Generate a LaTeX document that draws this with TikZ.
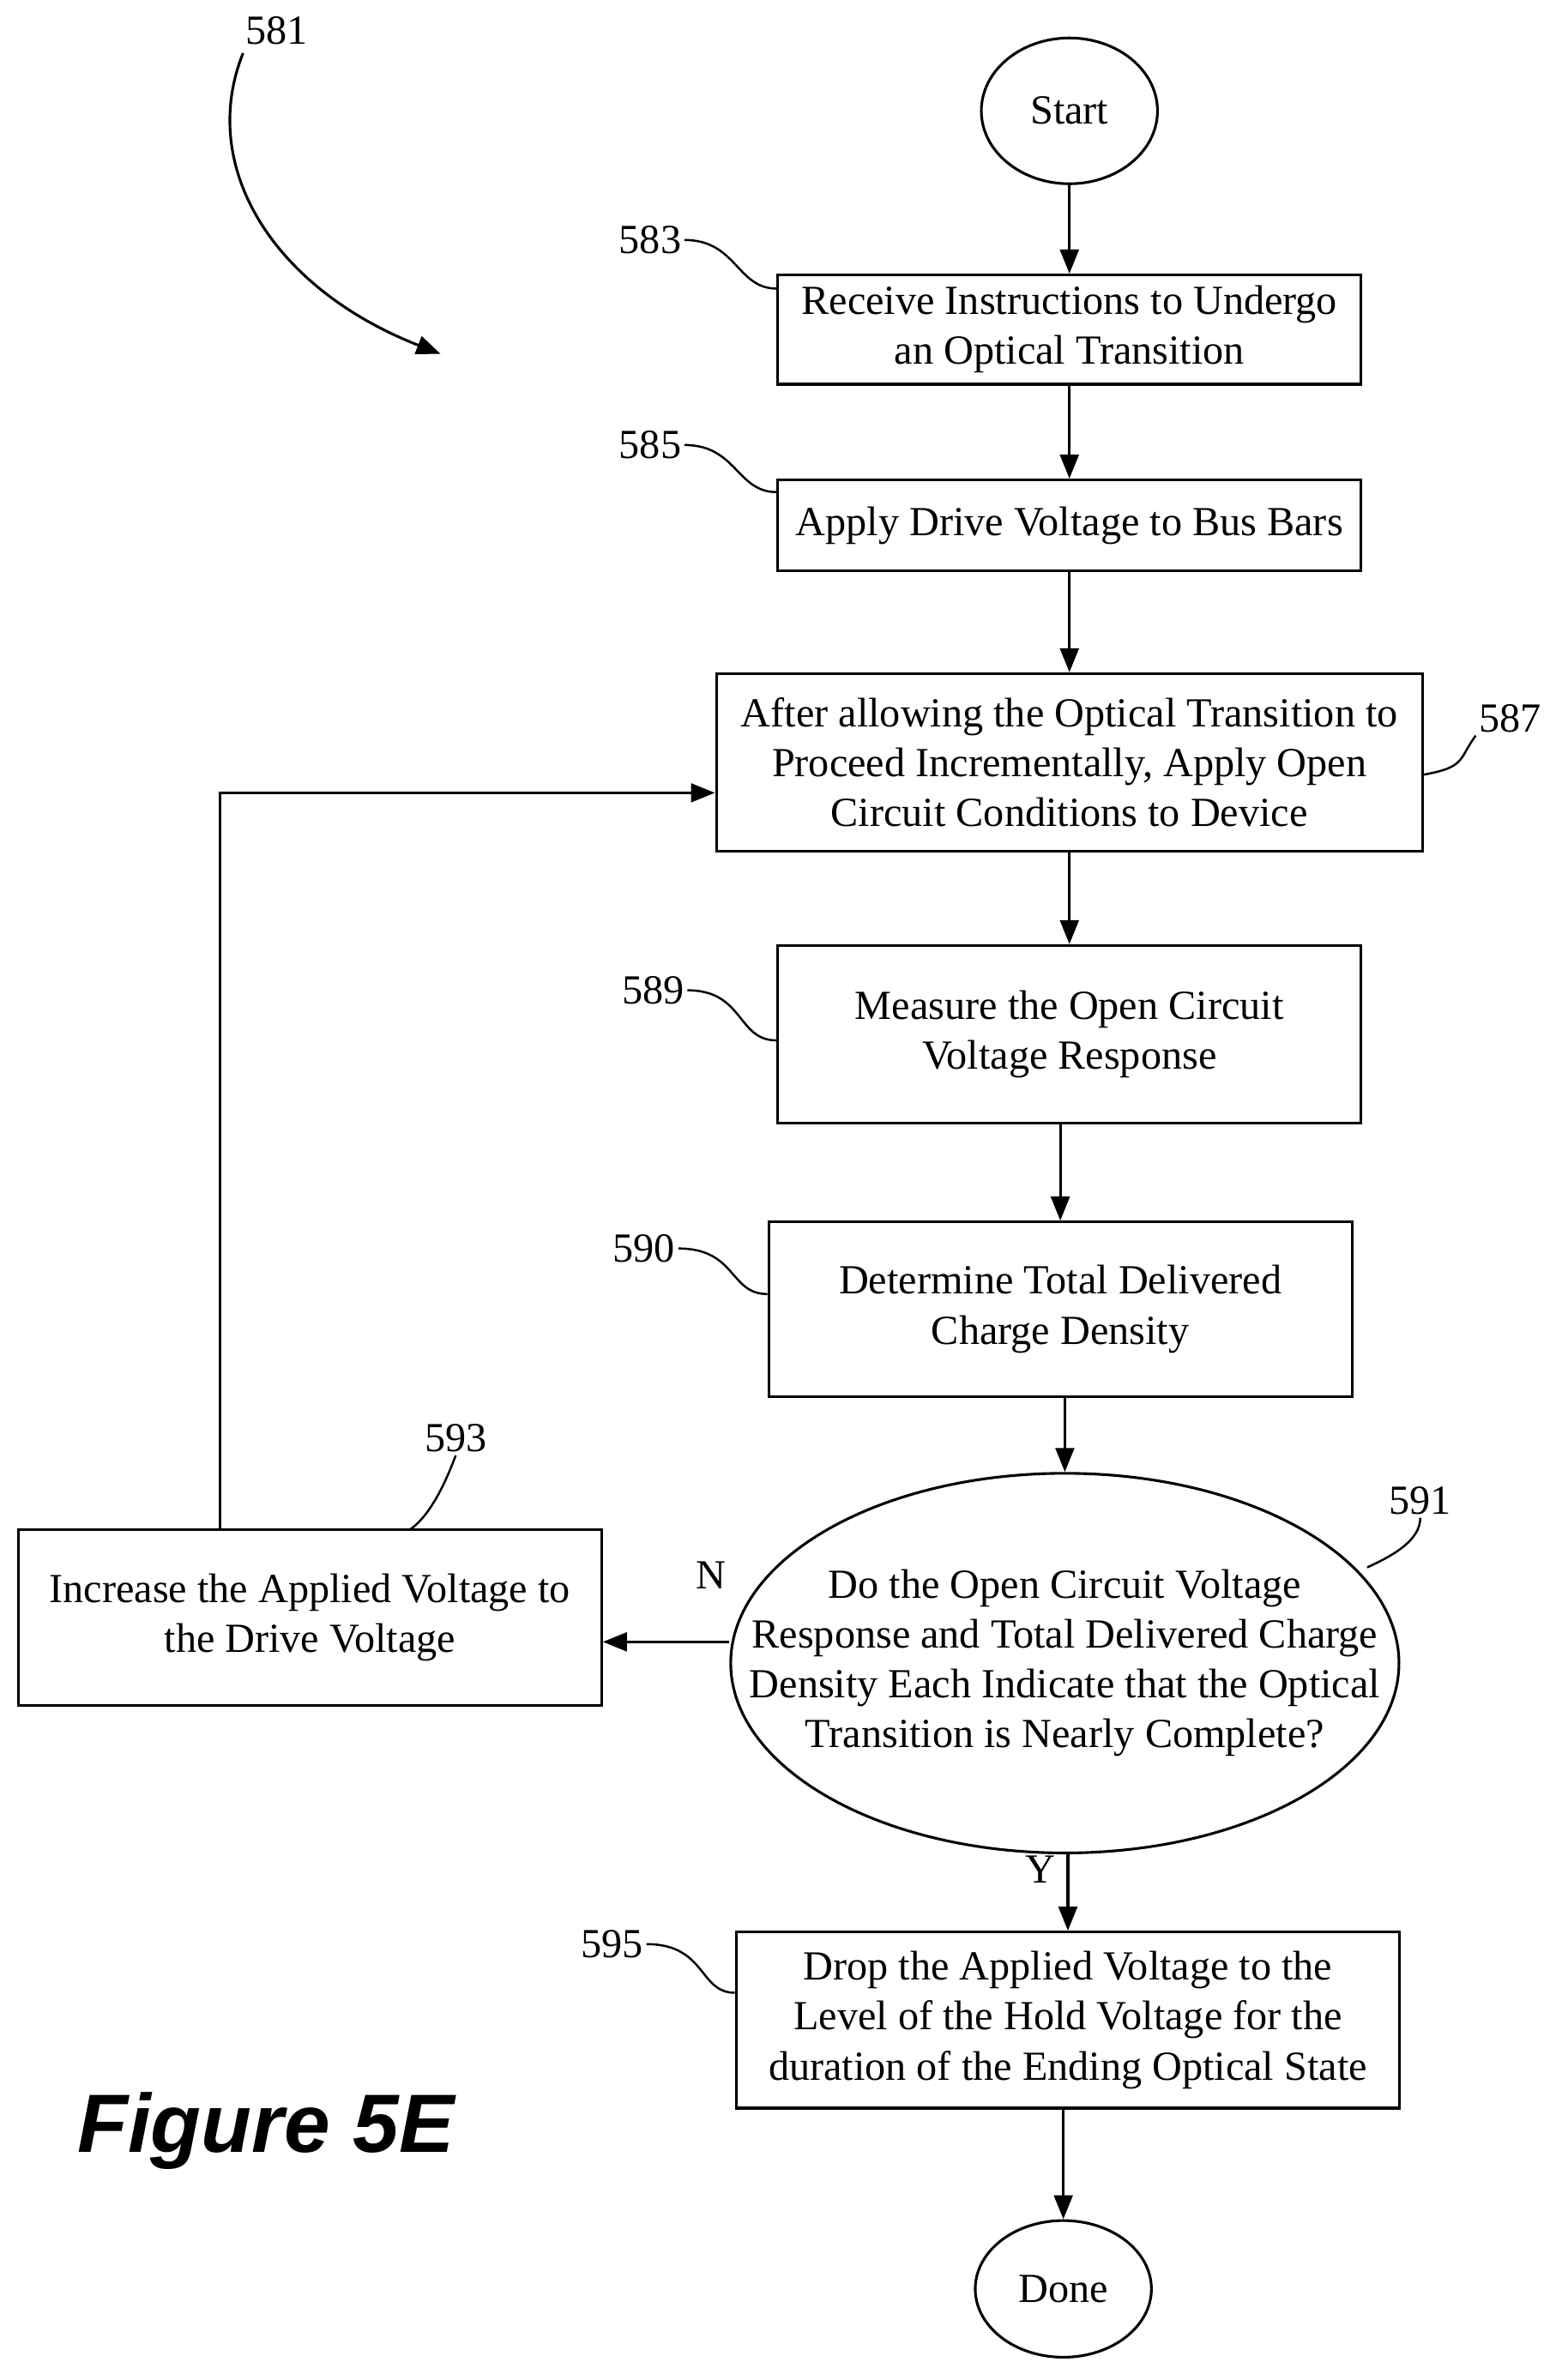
\documentclass[tikz,border=0pt]{standalone}
\usepackage{fontspec}
\setmainfont{Liberation Serif}
\setsansfont{Liberation Sans}
\usetikzlibrary{arrows.meta,shapes.geometric}
\tikzstyle{stepbox}=[rectangle,draw=black,line width=1pt,align=center,inner sep=0pt]
\tikzstyle{term}=[ellipse,draw=black,line width=1pt,inner sep=0pt,align=center]
\tikzstyle{lbl}=[inner sep=1pt]
\tikzstyle{flow}=[-{Triangle[length=9pt,width=7pt]},line width=1pt]
\tikzstyle{lead}=[line width=0.8pt]
\begin{document}
\begin{tikzpicture}[x=0.02cm,y=-0.02cm,font=\fontsize{15.5}{18.7}\selectfont]
  \useasboundingbox (0,0) rectangle (1024,1567);
  \node [style=term,minimum width=2.32cm,minimum height=1.92cm] (start) at (704,73) {Start};
  \node [style=stepbox,minimum width=7.68cm,minimum height=1.44cm] (583) at (704,217) {Receive Instructions to Undergo\\an Optical Transition};
  \node [style=stepbox,minimum width=7.68cm,minimum height=1.2cm] (585) at (704,346) {Apply Drive Voltage to Bus Bars};
  \node [style=stepbox,minimum width=9.3cm,minimum height=2.34cm] (587) at (704,502) {After allowing the Optical Transition to\\Proceed Incrementally, Apply Open\\Circuit Conditions to Device};
  \node [style=stepbox,minimum width=7.68cm,minimum height=2.34cm] (589) at (704,681) {Measure the Open Circuit\\Voltage Response};
  \node [style=stepbox,minimum width=7.68cm,minimum height=2.3cm] (590) at (698,862) {Determine Total Delivered\\Charge Density};
  \node [style=term,minimum width=8.8cm,minimum height=5cm] (591) at (701,1095) {};
  \node [align=center] (591t) at (591.center) {Do the Open Circuit Voltage\\Response and Total Delivered Charge\\Density Each Indicate that the Optical\\Transition is Nearly Complete?};
  \node [style=stepbox,minimum width=7.68cm,minimum height=2.32cm] (593) at (204,1065) {Increase the Applied Voltage to\\the Drive Voltage};
  \node [style=stepbox,minimum width=8.74cm,minimum height=2.32cm] (595) at (703,1330) {Drop the Applied Voltage to the\\Level of the Hold Voltage for the\\duration of the Ending Optical State};
  \node [style=term,minimum width=2.32cm,minimum height=1.8cm] (done) at (700,1507) {Done};
  % connectors
  \draw [style=flow] (start) -- (583);
  \draw [style=flow] (583) -- (585);
  \draw [style=flow] (585) -- (587);
  \draw [style=flow] (587) -- (589);
  \draw [style=flow] (589.south -| 698,0) -- (590);
  \draw [style=flow] (590.south -| 701,0) -- (591);
  \draw [style=flow] (591.south -| 703,0) -- (595);
  \draw [style=flow] (595.south -| 700,0) -- (done);
  \draw [style=flow] (591.west |- 0,1081) -- (593.east |- 0,1081);
  \coordinate (up) at (145,522);
  \draw [style=flow] (593.north -| up) -- (up) -- (587.west |- up);
  \node [style=lbl] (n) at (468,1037) {N};
  \node [style=lbl] (y) at (685,1231) {Y};
  % reference numerals
  \node [style=lbl] (l581) at (182,20) {581};
  \draw [style=flow] (160,35) .. controls (130,110) and (180,190) .. (290,233);
  \node [style=lbl] (l583) at (428,158) {583};
  \draw [style=lead] (l583.east) .. controls (485,158) and (485,190) .. (583.west |- 0,190);
  \node [style=lbl] (l585) at (428,293) {585};
  \draw [style=lead] (l585.east) .. controls (485,293) and (485,324) .. (585.west |- 0,324);
  \node [style=lbl] (l587) at (994,473) {587};
  \draw [style=lead] (l587.south west) .. controls (960,500) and (965,505) .. (587.east |- 0,510);
  \node [style=lbl] (l589) at (430,652) {589};
  \draw [style=lead] (l589.east) .. controls (490,652) and (485,685) .. (589.west |- 0,685);
  \node [style=lbl] (l590) at (424,822) {590};
  \draw [style=lead] (l590.east) .. controls (485,822) and (480,852) .. (590.west |- 0,852);
  \node [style=lbl] (l591) at (935,988) {591};
  \draw [style=lead] (l591.south) .. controls (935,1015) and (915,1025) .. (900,1032);
  \node [style=lbl] (l593) at (300,947) {593};
  \draw [style=lead] (l593.south) .. controls (290,985) and (280,1000) .. (270,1007);
  \node [style=lbl] (l595) at (403,1280) {595};
  \draw [style=lead] (l595.east) .. controls (465,1280) and (460,1312) .. (595.west |- 0,1312);
  \node [style=lbl,font=\sffamily\bfseries\itshape\fontsize{31}{36}\selectfont] (fig) at (175,1403) {Figure 5E};
\end{tikzpicture}
\end{document}
